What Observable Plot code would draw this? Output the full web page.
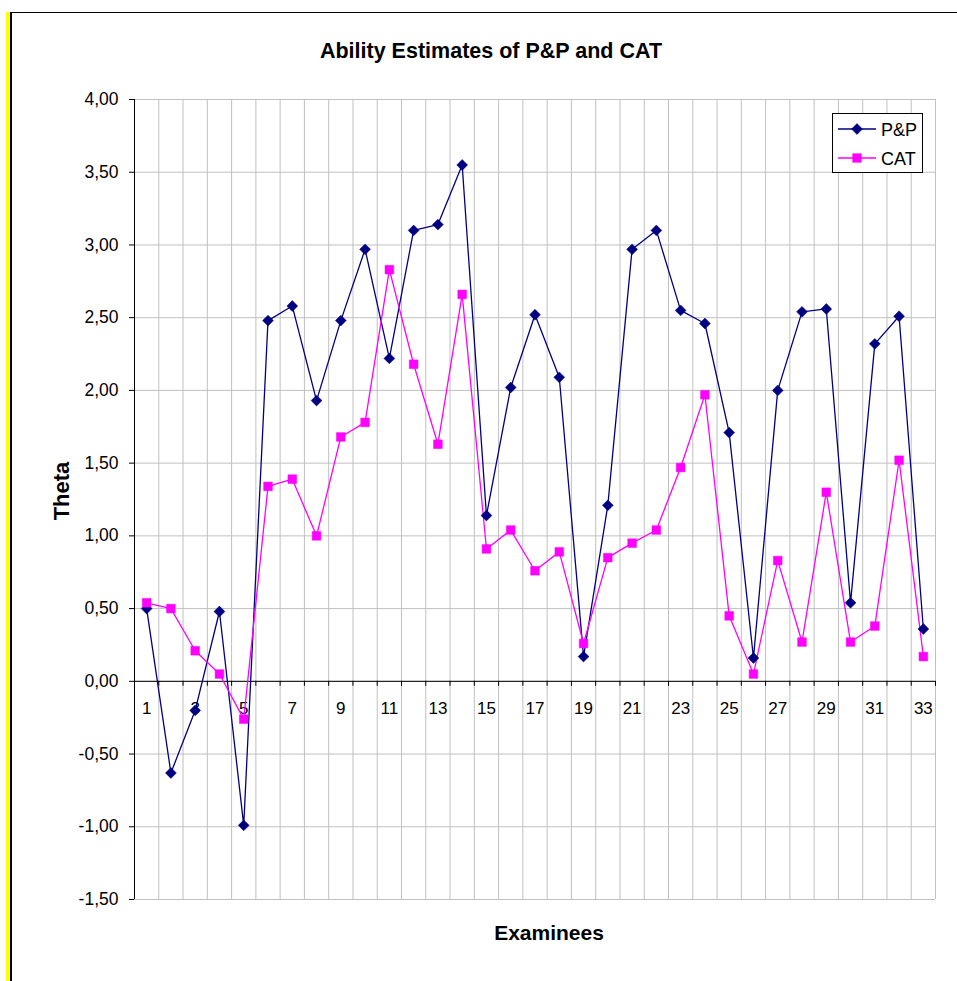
<!DOCTYPE html>
<html>
<head>
<meta charset="utf-8">
<script src="https://cdn.jsdelivr.net/npm/d3@7"></script>
<script src="https://cdn.jsdelivr.net/npm/@observablehq/plot@0.6"></script>
<style>
  body { margin: 0; background: #fff; }
  #wrap { position: relative; width: 957px; height: 981px; overflow: hidden; font-family: "Liberation Sans", Arial, sans-serif; }
  #wrap svg { position: absolute; left: 0; top: 0; }
  #stripe { position: absolute; left: 6px; top: 12px; width: 4px; height: 969px; background: #ffff00; }
  #edge { position: absolute; left: 10px; top: 12px; width: 960px; height: 980px; border-left: 2px solid #000; border-top: 1.5px solid #000; box-sizing: border-box; }
</style>
</head>
<body>
<div id="wrap"></div>
<script>
// Examinee numbers
const examinees = d3.range(1, 34);

// Theta estimates, paper-and-pencil test
const pnp = [0.50, -0.63, -0.20, 0.48, -0.99, 2.48, 2.58, 1.93, 2.48, 2.97,
             2.22, 3.10, 3.14, 3.55, 1.14, 2.02, 2.52, 2.09, 0.17, 1.21,
             2.97, 3.10, 2.55, 2.46, 1.71, 0.16, 2.00, 2.54, 2.56, 0.54,
             2.32, 2.51, 0.36];

// Theta estimates, computerized adaptive test
const cat = [0.54, 0.50, 0.21, 0.05, -0.26, 1.34, 1.39, 1.00, 1.68, 1.78,
             2.83, 2.18, 1.63, 2.66, 0.91, 1.04, 0.76, 0.89, 0.26, 0.85,
             0.95, 1.04, 1.47, 1.97, 0.45, 0.05, 0.83, 0.27, 1.30, 0.27,
             0.38, 1.52, 0.17];

const seriesNames = ["P&P", "CAT"];
const seriesColors = ["#000080", "#ff00ff"];
const seriesSymbols = ["diamond2", "square"];

const yTicks = [-1.5, -1, -0.5, 0, 0.5, 1, 1.5, 2, 2.5, 3, 3.5, 4];
const xTickLabels = examinees.filter(d => d % 2 === 1);
const boundaries = d3.range(0, 34).map(i => i + 0.5);

const title = "Ability Estimates of P&P and CAT";
const xTitle = "Examinees";
const yTitle = "Theta";

const rows = [
  ...examinees.map((e, i) => ({examinee: e, theta: pnp[i], series: seriesNames[0]})),
  ...examinees.map((e, i) => ({examinee: e, theta: cat[i], series: seriesNames[1]}))
];

const fmt = d => d.toFixed(2).replace(".", ",");
const grid = "#c0c0c0";

const chart = Plot.plot({
  width: 957,
  height: 981,
  marginLeft: 134,
  marginRight: 22,
  marginTop: 99,
  marginBottom: 82,
  style: {background: "transparent", fontFamily: "'Liberation Sans', Arial, sans-serif", fontSize: "17px", color: "#000"},
  x: {type: "linear", domain: [0.5, 33.5], axis: null},
  y: {type: "linear", domain: [-1.5, 4], axis: null},
  color: {domain: seriesNames, range: seriesColors},
  symbol: {domain: seriesNames, range: seriesSymbols},
  marks: [
    Plot.ruleY(yTicks, {stroke: grid, strokeWidth: 1}),
    Plot.ruleX(boundaries, {stroke: grid, strokeWidth: 1}),
    Plot.ruleX([0.5], {stroke: "#000", strokeWidth: 1}),
    Plot.ruleY([0], {stroke: "#000", strokeWidth: 1}),
    Plot.axisY({ticks: yTicks, tickFormat: fmt, tickSize: 5, tickPadding: 11, label: null, fontSize: 17.5}),
    Plot.ruleX(boundaries, {y1: 0, y2: -0.034, stroke: "#000", strokeWidth: 1}),
    Plot.text(xTickLabels, {x: d => d, y: 0, dy: 27, text: d => String(d), fontSize: 17, fill: "#000"}),
    Plot.line(rows, {x: "examinee", y: "theta", z: "series", stroke: "series", strokeWidth: 1.3}),
    Plot.dot(rows, {x: "examinee", y: "theta", symbol: "series", fill: "series", stroke: "series", strokeWidth: 0.5, r: 4.9})
  ]
});

const wrap = document.getElementById("wrap");
wrap.appendChild(chart);

// Titles and legend placed in the chart's pixel space
const svg = d3.select(chart);
const font = "'Liberation Sans', Arial, sans-serif";

svg.append("text")
  .attr("x", 491).attr("y", 58)
  .attr("text-anchor", "middle")
  .attr("font-family", font).attr("font-size", 21.5).attr("font-weight", "bold")
  .attr("fill", "#000")
  .text(title);

svg.append("text")
  .attr("x", 549).attr("y", 940)
  .attr("text-anchor", "middle")
  .attr("font-family", font).attr("font-size", 21).attr("font-weight", "bold")
  .attr("fill", "#000")
  .text(xTitle);

svg.append("text")
  .attr("transform", "translate(69,491) rotate(-90)")
  .attr("text-anchor", "middle")
  .attr("font-family", font).attr("font-size", 22).attr("font-weight", "bold")
  .attr("fill", "#000")
  .text(yTitle);

const legend = svg.append("g");
legend.append("rect")
  .attr("x", 832.5).attr("y", 113.5).attr("width", 90).attr("height", 59)
  .attr("fill", "#fff").attr("stroke", "#000").attr("stroke-width", 1);

seriesNames.forEach((name, i) => {
  const y = 129 + i * 29;
  const g = legend.append("g");
  g.append("line")
    .attr("x1", 838).attr("x2", 876).attr("y1", y).attr("y2", y)
    .attr("stroke", seriesColors[i]).attr("stroke-width", 1.3);
  const sym = i === 0 ? d3.symbolDiamond2 : d3.symbolSquare;
  g.append("path")
    .attr("transform", `translate(857,${y})`)
    .attr("d", d3.symbol(sym, Math.PI * 4.9 * 4.9)())
    .attr("fill", seriesColors[i]).attr("stroke", seriesColors[i]).attr("stroke-width", 0.5);
  g.append("text")
    .attr("x", 881).attr("y", y + 6.5)
    .attr("text-anchor", "start")
    .attr("font-family", font).attr("font-size", 18)
    .attr("fill", "#000")
    .text(name);
});

// Page decoration: yellow stripe and frame edges
const stripe = document.createElement("div");
stripe.id = "stripe";
wrap.appendChild(stripe);
const edge = document.createElement("div");
edge.id = "edge";
wrap.appendChild(edge);
</script>
</body>
</html>
